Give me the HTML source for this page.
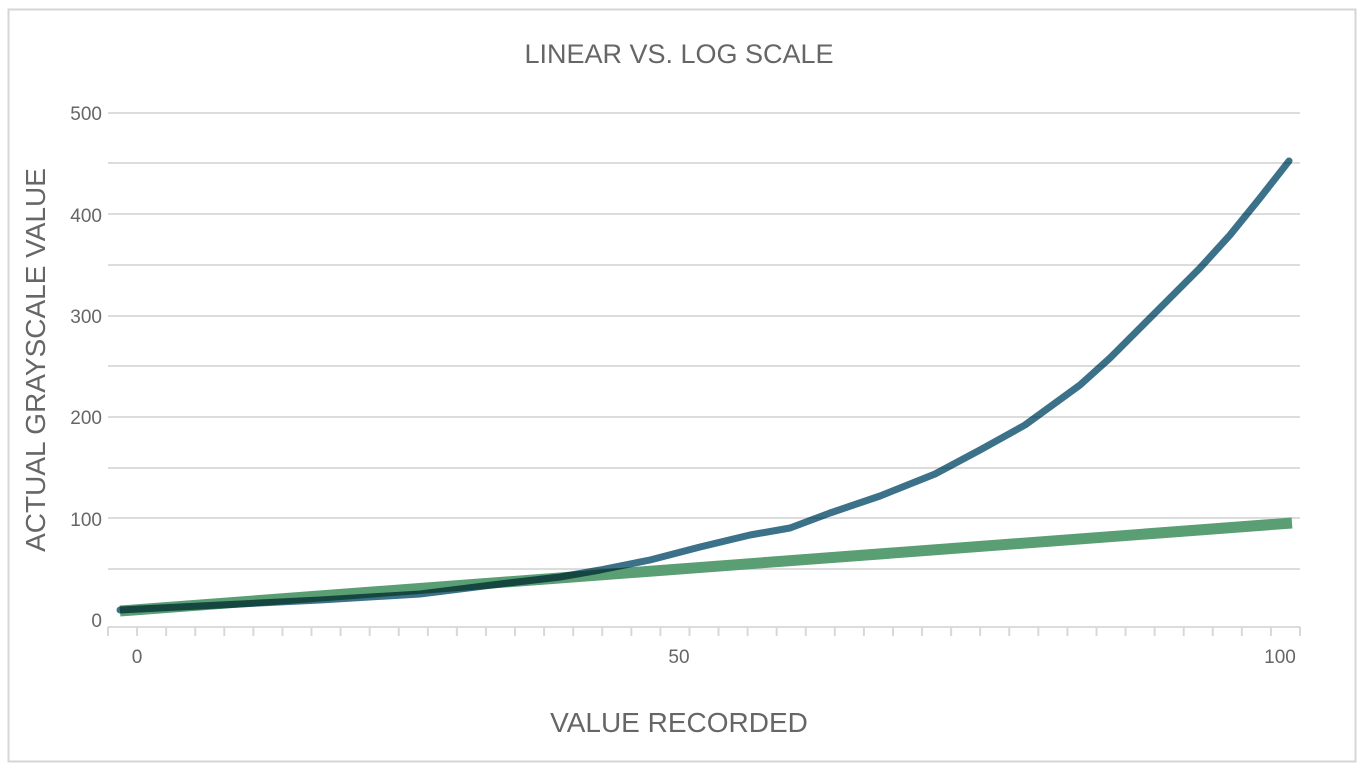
<!DOCTYPE html>
<html><head><meta charset="utf-8"><style>
html,body{margin:0;padding:0;background:#fff;}
svg{display:block;font-family:"Liberation Sans",sans-serif;}
</style></head><body>
<svg width="1360" height="771" viewBox="0 0 1360 771" xmlns="http://www.w3.org/2000/svg">
<rect x="8.5" y="9.5" width="1347" height="752" fill="#fff" stroke="#d6d6d6" stroke-width="2"/>
<text x="679" y="63" text-anchor="middle" font-size="27" fill="#666">LINEAR VS. LOG SCALE</text>
<g stroke="#dcdcdc" stroke-width="2">
<line x1="108" x2="1300" y1="113" y2="113"/>
<line x1="108" x2="1300" y1="163" y2="163"/>
<line x1="108" x2="1300" y1="214" y2="214"/>
<line x1="108" x2="1300" y1="265" y2="265"/>
<line x1="108" x2="1300" y1="316" y2="316"/>
<line x1="108" x2="1300" y1="366" y2="366"/>
<line x1="108" x2="1300" y1="417" y2="417"/>
<line x1="108" x2="1300" y1="468" y2="468"/>
<line x1="108" x2="1300" y1="518" y2="518"/>
<line x1="108" x2="1300" y1="569" y2="569"/>
<line x1="108" x2="1300" y1="627" y2="627"/>
</g>
<g stroke="#d8d8d8" stroke-width="2" id="ticks"></g>
<g font-size="19" fill="#666" text-anchor="end">
<text x="102" y="120">500</text>
<text x="102" y="222">400</text>
<text x="102" y="323">300</text>
<text x="102" y="424">200</text>
<text x="102" y="526">100</text>
<text x="102" y="627">0</text>
</g>
<g font-size="19" fill="#666" text-anchor="middle">
<text x="137" y="663">0</text>
<text x="679" y="663">50</text>
<text x="1280" y="663">100</text>
</g>
<text x="679" y="732" text-anchor="middle" font-size="28" fill="#666">VALUE RECORDED</text>
<text transform="translate(45,360) rotate(-90)" text-anchor="middle" font-size="28" fill="#666">ACTUAL GRAYSCALE VALUE</text>
<line x1="120" y1="611" x2="1292" y2="523" stroke="#5a9e74" stroke-width="11"/>
<polyline style="mix-blend-mode:multiply" fill="none" stroke="#3b7189" stroke-width="7" stroke-linecap="round" stroke-linejoin="round"
points="120,610 220,605 320,600 420,594 500,584 560,577 600,570 650,560 700,547 750,535 790,528 830,513 880,496 935,474 980,450 1025,425 1080,385 1110,358 1140,328 1170,298 1200,268 1230,235 1260,198 1289,161"/>
</svg>
<script>
var g=document.getElementById('ticks');
for(var i=0;i<=41;i++){var x=108+i*(1192/41);var l=document.createElementNS('http://www.w3.org/2000/svg','line');l.setAttribute('x1',x);l.setAttribute('x2',x);l.setAttribute('y1',627);l.setAttribute('y2',636);g.appendChild(l);}
</script>
</body></html>
